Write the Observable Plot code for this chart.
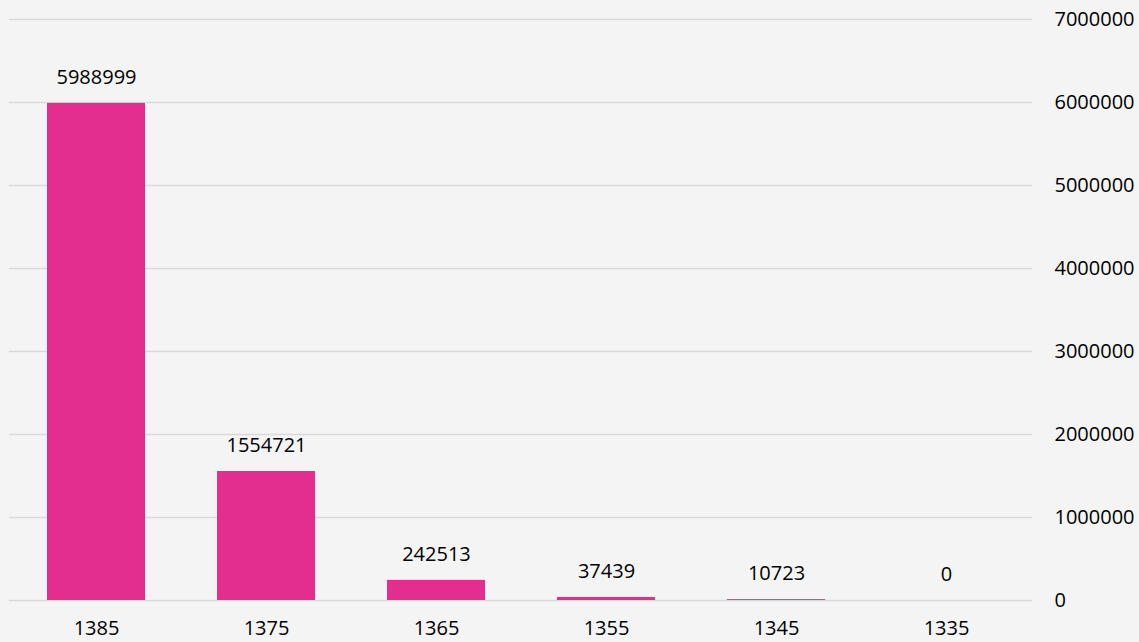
<!DOCTYPE html>
<html>
<head>
<meta charset="utf-8">
<script src="https://cdn.jsdelivr.net/npm/d3@7"></script>
<script src="https://cdn.jsdelivr.net/npm/@observablehq/plot@0.6"></script>
<style>
  html, body { margin: 0; padding: 0; background: #f4f4f4; }
  #chart svg { display: block; }
</style>
</head>
<body>
<div id="chart"></div>
<script>
const years = ["1385", "1375", "1365", "1355", "1345", "1335"];
const counts = [5988999, 1554721, 242513, 37439, 10723, 0];
const yTicks = [0, 1000000, 2000000, 3000000, 4000000, 5000000, 6000000, 7000000];

const data = years.map((y, i) => ({year: y, count: counts[i]}));

const chart = Plot.plot({
  width: 1139,
  height: 642,
  marginLeft: 9,
  marginRight: 107,
  marginTop: 19,
  marginBottom: 42,
  style: {background: "#f4f4f4", fontFamily: "'Open Sans', sans-serif", fontSize: "20px", color: "#000"},
  x: {domain: years, paddingInner: 0.425, paddingOuter: 0.2125, label: null},
  y: {domain: [0, 7000000], label: null},
  marks: [
    Plot.ruleY(yTicks, {stroke: "#d9d9d9", strokeWidth: 1.5}),
    Plot.barY(data, {x: "year", y: "count", fill: "#e32e8f"}),
    Plot.text(data, {x: "year", y: "count", text: d => String(d.count), dy: -26, fill: "#000", fontSize: 20}),
    Plot.axisX({tickSize: 0, tickPadding: 20, fontSize: 20, label: null}),
    Plot.axisY({anchor: "right", ticks: yTicks, tickSize: 0, tickPadding: 22, tickFormat: d => String(d), fontSize: 20, label: null})
  ]
});
document.getElementById("chart").appendChild(chart);
</script>
</body>
</html>
